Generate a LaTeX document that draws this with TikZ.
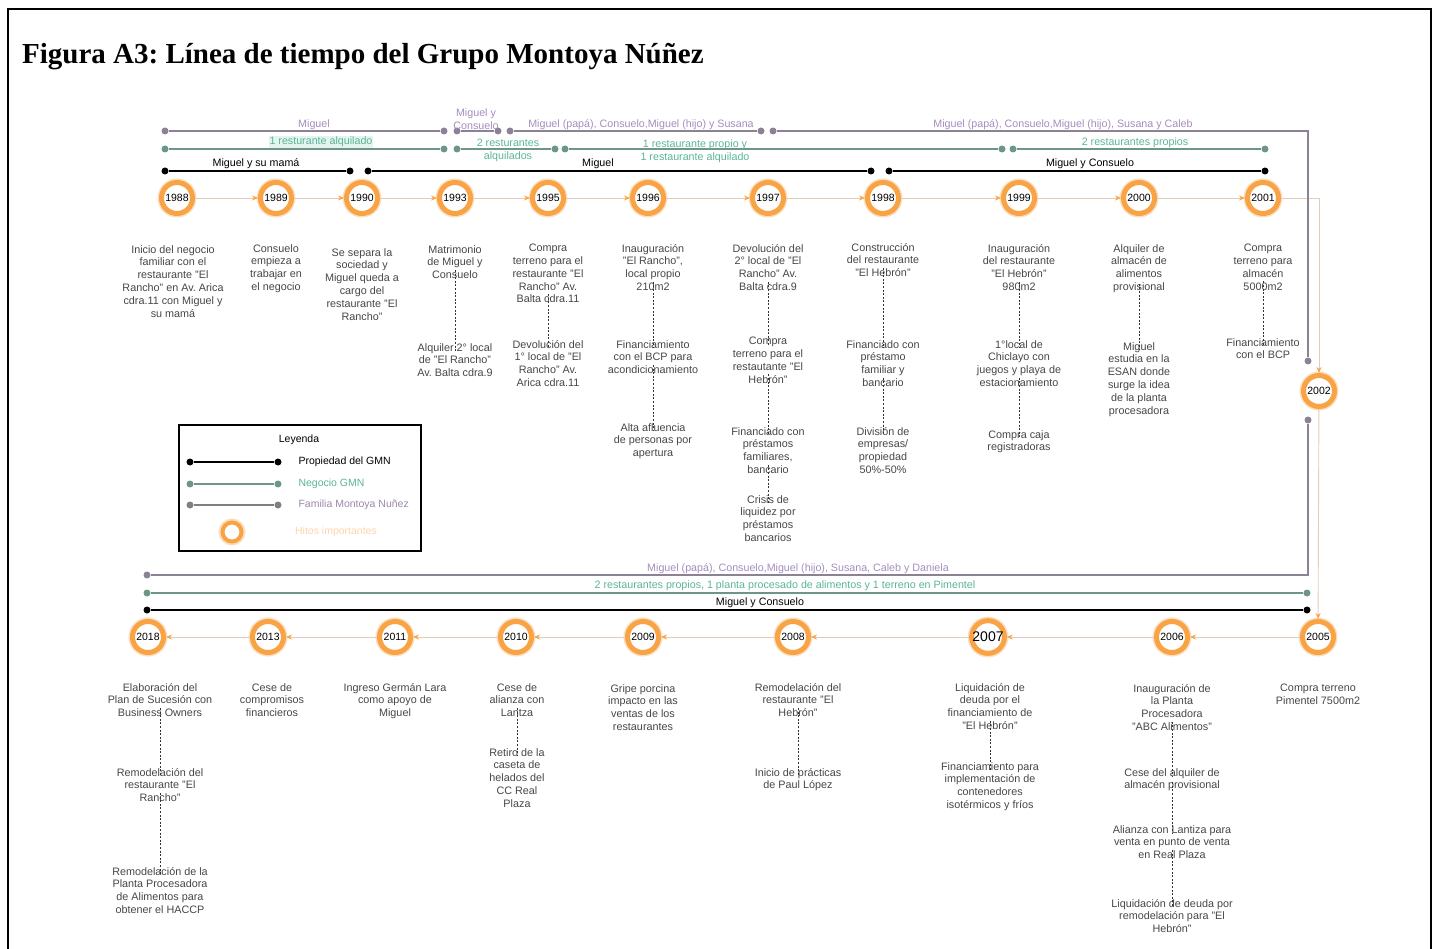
\documentclass[tikz,border=0pt]{standalone}
\usepackage{fontspec}
\setmainfont{Liberation Sans}
\newfontfamily\headfont{Liberation Serif}
\usetikzlibrary{arrows.meta}
\frenchspacing
\definecolor{ring}{RGB}{247,163,70}
\definecolor{tlline}{RGB}{226,205,185}
\definecolor{evtext}{RGB}{70,70,70}
\definecolor{famln}{RGB}{140,130,150}
\definecolor{famtx}{RGB}{165,140,190}
\definecolor{negln}{RGB}{110,150,135}
\definecolor{negtx}{RGB}{90,180,155}
\definecolor{negbg}{RGB}{228,244,238}
\tikzset{
  yr/.style={circle, draw=ring, line width=5pt, fill=white, minimum size=31pt,
    inner sep=0pt, text=black, font=\fontsize{10.5}{12}\selectfont,
    preaction={draw=ring!35, line width=8pt}},
  ev/.style={align=center, anchor=north, inner sep=0pt, text=evtext,
    font=\fontsize{10.8}{12.8}\selectfont},
  lnk/.style={draw=black!80, line width=0.7pt, dash pattern=on 2pt off 1.6pt,
    shorten <=-9pt, shorten >=-8pt},
  tl/.style={draw=tlline, line width=0.9pt,
    -{Stealth[length=6pt,width=5pt,color=ring]}},
  bd/.style={circle, fill=#1, inner sep=0pt, minimum size=7pt},
  bandlbl/.style={inner sep=1pt, font=\fontsize{10.7}{12.8}\selectfont, align=center},
  famband/.style={draw=famln, line width=1.2pt},
  negband/.style={draw=negln, line width=1.2pt},
  ownband/.style={draw=black, line width=1.4pt},
}
\begin{document}
\begin{tikzpicture}[x=1pt,y=-1pt]
\useasboundingbox (0,0) rectangle (1438,949);
% outer frame and heading
\draw[line width=1.5pt] (8,949) -- (8,9) -- (1431,9) -- (1431,949);
\node[anchor=base west, inner sep=0pt, font=\headfont\bfseries\fontsize{29}{34}\selectfont] (title) at (22,64)
  {Figura A3: Línea de tiempo del Grupo Montoya Núñez};

% ---------- milestones, first row ----------
\node[yr] (y1988) at (177,198) {1988};
\node[yr] (y1989) at (276,198) {1989};
\node[yr] (y1990) at (362,198) {1990};
\node[yr] (y1993) at (455,198) {1993};
\node[yr] (y1995) at (548,198) {1995};
\node[yr] (y1996) at (648,198) {1996};
\node[yr] (y1997) at (768,198) {1997};
\node[yr] (y1998) at (883,198) {1998};
\node[yr] (y1999) at (1019,198) {1999};
\node[yr] (y2000) at (1139,198) {2000};
\node[yr] (y2001) at (1263,198) {2001};
\node[yr] (y2002) at (1319,391) {2002};
% ---------- milestones, second row ----------
\node[yr] (y2005) at (1318,637) {2005};
\node[yr] (y2006) at (1172,637) {2006};
\node[yr, font=\fontsize{14}{15}\selectfont] (y2007) at (988,637) {2007};
\node[yr] (y2008) at (793,637) {2008};
\node[yr] (y2009) at (643,637) {2009};
\node[yr] (y2010) at (516,637) {2010};
\node[yr] (y2011) at (395,637) {2011};
\node[yr] (y2013) at (268,637) {2013};
\node[yr] (y2018) at (148,637) {2018};

% time flow
\draw[tl] (y1988) -- (y1989);
\draw[tl] (y1989) -- (y1990);
\draw[tl] (y1990) -- (y1993);
\draw[tl] (y1993) -- (y1995);
\draw[tl] (y1995) -- (y1996);
\draw[tl] (y1996) -- (y1997);
\draw[tl] (y1997) -- (y1998);
\draw[tl] (y1998) -- (y1999);
\draw[tl] (y1999) -- (y2000);
\draw[tl] (y2000) -- (y2001);
\draw[tl] (y2001) -| (y2002);
\draw[tl] (y2002) -- (y2005);
\draw[tl] (y2005) -- (y2006);
\draw[tl] (y2006) -- (y2007);
\draw[tl] (y2007) -- (y2008);
\draw[tl] (y2008) -- (y2009);
\draw[tl] (y2009) -- (y2010);
\draw[tl] (y2010) -- (y2011);
\draw[tl] (y2011) -- (y2013);
\draw[tl] (y2013) -- (y2018);

% ---------- family band ----------
\node[bd=famln] (p1a) at (165,131) {};
\node[bd=famln] (p1b) at (444,131) {};
\node[bd=famln] (p2a) at (457,131) {};
\node[bd=famln] (p2b) at (498,131) {};
\node[bd=famln] (p3a) at (510,131) {};
\node[bd=famln] (p3b) at (761,131) {};
\node[bd=famln] (p4a) at (773,131) {};
\node[bd=famln] (p4b) at (1308,361) {};
\node[bd=famln] (p5a) at (1308,420) {};
\node[bd=famln] (p5b) at (147,575) {};
\draw[famband] (p1a) -- (p1b);
\draw[famband] (p2a) -- (p2b);
\draw[famband] (p3a) -- (p3b);
\draw[famband] (p4a) -| (p4b);
\draw[famband] (p5a) |- (p5b);
\node[bandlbl, text=famtx, anchor=south] (pl1) at (314,131) {Miguel};
\node[bandlbl, text=famtx, anchor=south, font=\fontsize{10.7}{13}\selectfont] (pl2) at (476,131) {Miguel y\\Consuelo};
\node[bandlbl, text=famtx, anchor=south] (pl3) at (641,131) {Miguel (papá), Consuelo,Miguel (hijo) y Susana};
\node[bandlbl, text=famtx, anchor=south] (pl4) at (1063,131) {Miguel (papá), Consuelo,Miguel (hijo), Susana y Caleb};
\node[bandlbl, text=famtx, anchor=south] (pl5) at (798,575) {Miguel (papá), Consuelo,Miguel (hijo), Susana, Caleb y Daniela};

% ---------- business band ----------
\node[bd=negln] (g1a) at (165,149) {};
\node[bd=negln] (g1b) at (444,149) {};
\node[bd=negln] (g2a) at (457,149) {};
\node[bd=negln] (g2b) at (555,149) {};
\node[bd=negln] (g3a) at (565,149) {};
\node[bd=negln] (g3b) at (1002,149) {};
\node[bd=negln] (g4a) at (1013,149) {};
\node[bd=negln] (g4b) at (1265,149) {};
\node[bd=negln] (g5a) at (1307,593) {};
\node[bd=negln] (g5b) at (147,593) {};
\draw[negband] (g1a) -- (g1b);
\draw[negband] (g2a) -- (g2b);
\draw[negband] (g3a) -- (g3b);
\draw[negband] (g4a) -- (g4b);
\draw[negband] (g5a) -- (g5b);
\node[bandlbl, text=negtx, fill=negbg, anchor=south] (gl1) at (321,148) {1 resturante alquilado};
\node[bandlbl, text=negtx] (gl2) at (508,150) {2 resturantes\\alquilados};
\node[bandlbl, text=negtx] (gl3) at (695,151) {1 restaurante propio y\\1 restaurante alquilado};
\node[bandlbl, text=negtx, anchor=south] (gl4) at (1135,149) {2 restaurantes propios};
\node[bandlbl, text=negtx, anchor=south] (gl5) at (785,592) {2 restaurantes propios, 1 planta procesado de alimentos y 1 terreno en Pimentel};

% ---------- ownership band ----------
\node[bd=black] (k1a) at (165,171) {};
\node[bd=black] (k1b) at (350,171) {};
\node[bd=black] (k2a) at (368,171) {};
\node[bd=black] (k2b) at (871,171) {};
\node[bd=black] (k3a) at (889,171) {};
\node[bd=black] (k3b) at (1265,171) {};
\node[bd=black] (k4a) at (1307,610) {};
\node[bd=black] (k4b) at (147,610) {};
\draw[ownband] (k1a) -- (k1b);
\draw[ownband] (k2a) -- (k2b);
\draw[ownband] (k3a) -- (k3b);
\draw[ownband] (k4a) -- (k4b);
\node[bandlbl, anchor=south] (kl1) at (256,170) {Miguel y su mamá};
\node[bandlbl, anchor=south] (kl2) at (598,170) {Miguel};
\node[bandlbl, anchor=south] (kl3) at (1090,170) {Miguel y Consuelo};
\node[bandlbl, anchor=south] (kl4) at (760,609) {Miguel y Consuelo};

% ---------- events 1988-2001 ----------
\node[ev] (t88a) at (173,245) {Inicio del negocio\\familiar con el\\restaurante "El\\Rancho" en Av. Arica\\cdra.11 con Miguel y\\su mamá};
\node[ev] (t89a) at (276,244) {Consuelo\\empieza a\\trabajar en\\el negocio};
\node[ev] (t90a) at (362,248) {Se separa la\\sociedad y\\Miguel queda a\\cargo del\\restaurante "El\\Rancho"};
\node[ev] (t93a) at (455,245) {Matrimonio\\de Miguel y\\Consuelo};
\node[ev] (t93b) at (455,343) {Alquiler 2° local\\de "El Rancho"\\Av. Balta cdra.9};
\node[ev] (t95a) at (548,244) {Compra\\terreno para el\\restaurante "El\\Rancho" Av.\\Balta cdra.11};
\node[ev] (t95b) at (548,340) {Devolución del\\1° local de "El\\Rancho" Av.\\Arica cdra.11};
\node[ev] (t96a) at (653,244) {Inauguración\\"El Rancho",\\local propio\\210m2};
\node[ev] (t96b) at (653,340) {Financiamiento\\con el BCP para\\acondicionamiento};
\node[ev] (t96c) at (653,423) {Alta afluencia\\de personas por\\apertura};
\node[ev] (t97a) at (768,244) {Devolución del\\2° local de "El\\Rancho" Av.\\Balta cdra.9};
\node[ev] (t97b) at (768,337) {Compra\\terreno para el\\restautante "El\\Hebrón"};
\node[ev] (t97c) at (768,427) {Financiado con\\préstamos\\familiares,\\bancario};
\node[ev] (t97d) at (768,495) {Crisis de\\liquidez por\\préstamos\\bancarios};
\node[ev] (t98a) at (883,243) {Construcción\\del restaurante\\"El Hebrón"};
\node[ev] (t98b) at (883,340) {Financiado con\\préstamo\\familiar y\\bancario};
\node[ev] (t98c) at (883,427) {División de\\empresas/\\propiedad\\50\%-50\%};
\node[ev] (t99a) at (1019,244) {Inauguración\\del restaurante\\"El Hebrón"\\980m2};
\node[ev] (t99b) at (1019,340) {1°local de\\Chiclayo con\\juegos y playa de\\estacionamiento};
\node[ev] (t99c) at (1019,430) {Compra caja\\registradoras};
\node[ev] (t00a) at (1139,244) {Alquiler de\\almacén de\\alimentos\\provisional};
\node[ev] (t00b) at (1139,342) {Miguel\\estudia en la\\ESAN donde\\surge la idea\\de la planta\\procesadora};
\node[ev] (t01a) at (1263,244) {Compra\\terreno para\\almacén\\5000m2};
\node[ev] (t01b) at (1263,338) {Financiamiento\\con el BCP};

\draw[lnk] (t93a.south) -- (t93b.north);
\draw[lnk] (t95a.south) -- (t95b.north);
\draw[lnk] (t96a.south) -- (t96b.north);
\draw[lnk] (t96b.south) -- (t96c.north);
\draw[lnk] (t97a.south) -- (t97b.north);
\draw[lnk] (t97b.south) -- (t97c.north);
\draw[lnk] (t97c.south) -- (t97d.north);
\draw[lnk] (t98a.south) -- (t98b.north);
\draw[lnk] (t98b.south) -- (t98c.north);
\draw[lnk] (t99a.south) -- (t99b.north);
\draw[lnk] (t99b.south) -- (t99c.north);
\draw[lnk] (t00a.south) -- (t00b.north);
\draw[lnk] (t01a.south) -- (t01b.north);

% ---------- events 2005-2018 ----------
\node[ev] (t18a) at (160,683) {Elaboración del\\Plan de Sucesión con\\Business Owners};
\node[ev] (t18b) at (160,768) {Remodelación del\\restaurante "El\\Rancho"};
\node[ev] (t18c) at (160,867) {Remodelación de la\\Planta Procesadora\\de Alimentos para\\obtener el HACCP};
\node[ev] (t13a) at (272,683) {Cese de\\compromisos\\financieros};
\node[ev] (t11a) at (395,683) {Ingreso Germán Lara\\como apoyo de\\Miguel};
\node[ev] (t10a) at (517,683) {Cese de\\alianza con\\Lantza};
\node[ev] (t10b) at (517,748) {Retiro de la\\caseta de\\helados del\\CC Real\\Plaza};
\node[ev] (t09a) at (643,684) {Gripe porcina\\impacto en las\\ventas de los\\restaurantes};
\node[ev] (t08a) at (798,683) {Remodelación del\\restaurante "El\\Hebrón"};
\node[ev] (t08b) at (798,768) {Inicio de prácticas\\de Paul López};
\node[ev] (t07a) at (990,683) {Liquidación de\\deuda por el\\financiamiento de\\"El Hebrón"};
\node[ev] (t07b) at (990,762) {Financiamiento para\\implementación de\\contenedores\\isotérmicos y fríos};
\node[ev] (t06a) at (1172,684) {Inauguración de\\la Planta\\Procesadora\\"ABC Alimentos"};
\node[ev] (t06b) at (1172,768) {Cese del alquiler de\\almacén provisional};
\node[ev] (t06c) at (1172,825) {Alianza con Lantiza para\\venta en punto de venta\\en Real Plaza};
\node[ev] (t06d) at (1172,899) {Liquidación de deuda por\\remodelación para "El\\Hebrón"};
\node[ev] (t05a) at (1318,684) {Compra terreno\\Pimentel 7500m2};

\draw[lnk] (t18a.south) -- (t18b.north);
\draw[lnk] (t18b.south) -- (t18c.north);
\draw[lnk] (t10a.south) -- (t10b.north);
\draw[lnk] (t08a.south) -- (t08b.north);
\draw[lnk] (t07a.south) -- (t07b.north);
\draw[lnk] (t06a.south) -- (t06b.north);
\draw[lnk] (t06b.south) -- (t06c.north);
\draw[lnk] (t06c.south) -- (t06d.north);

% ---------- legend ----------
\node[draw, line width=1.6pt, anchor=north west, minimum width=242pt, minimum height=126pt, inner sep=0pt] (legbox) at (178,424) {};
\node[font=\fontsize{10.5}{12}\selectfont] (legt) at (299,440) {Leyenda};
\node[bd=black] (la1) at (190,462) {};
\node[bd=black] (la2) at (278,462) {};
\draw[ownband] (la1) -- (la2);
\node[anchor=west, font=\fontsize{10.5}{12}\selectfont] (lat) at (295,462) {Propiedad del GMN};
\node[bd=negln] (lb1) at (190,484) {};
\node[bd=negln] (lb2) at (278,484) {};
\draw[negband] (lb1) -- (lb2);
\node[anchor=west, text=negtx, font=\fontsize{10.5}{12}\selectfont] (lbt) at (295,484) {Negocio GMN};
\node[bd=gray] (lc1) at (190,505) {};
\node[bd=gray] (lc2) at (278,505) {};
\draw[draw=gray, line width=1.2pt] (lc1) -- (lc2);
\node[anchor=west, text=famtx!70!gray, font=\fontsize{10.5}{12}\selectfont] (lct) at (295,505) {Familia Montoya Nuñez};
\node[yr, minimum size=19pt, line width=4pt] (lring) at (232,532) {};
\node[text=ring!45, font=\fontsize{10.5}{12}\selectfont] (lrt) at (336,532) {Hitos importantes};
\end{tikzpicture}
\end{document}
